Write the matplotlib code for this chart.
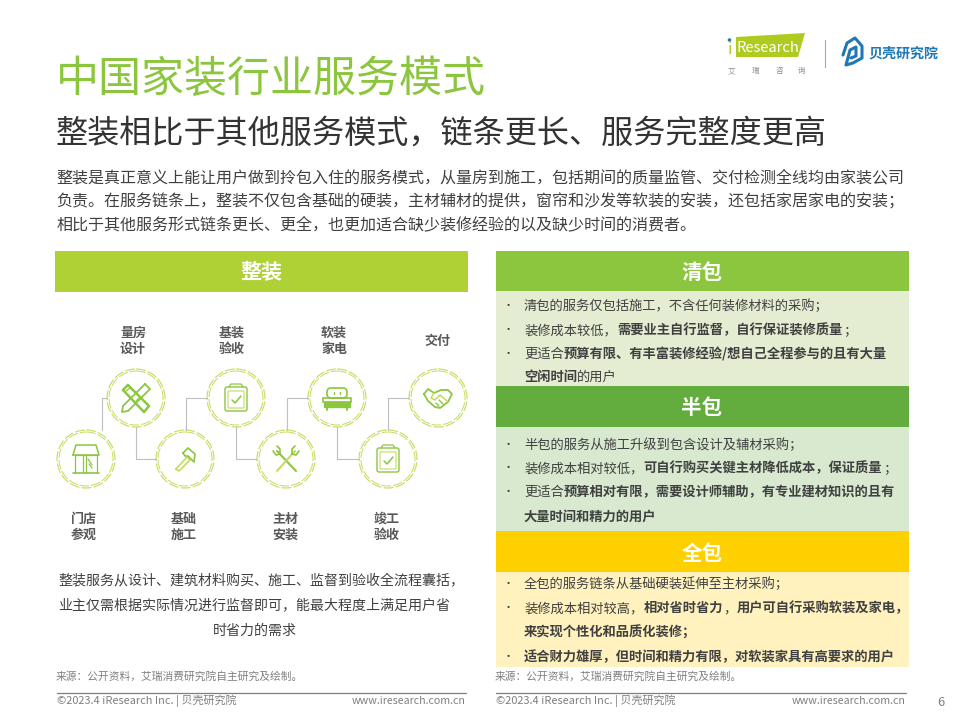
import matplotlib
matplotlib.use('Agg')
import matplotlib.pyplot as plt
from matplotlib.patches import Circle, Rectangle, Polygon, FancyBboxPatch

plt.rcParams['font.family'] = ['Noto Sans CJK SC', 'DejaVu Sans']

# teksty
tytul = '中国家装行业服务模式'
podtytul = '整装相比于其他服务模式，链条更长、服务完整度更高'
wstep = ['整装是真正意义上能让用户做到拎包入住的服务模式，从量房到施工，包括期间的质量监管、交付检测全线均由家装公司',
         '负责。在服务链条上，整装不仅包含基础的硬装，主材辅材的提供，窗帘和沙发等软装的安装，还包括家居家电的安装；',
         '相比于其他服务形式链条更长、更全，也更加适合缺少装修经验的以及缺少时间的消费者。']
opis_lewy = ['整装服务从设计、建筑材料购买、施工、监督到验收全流程囊括，',
             '业主仅需根据实际情况进行监督即可，能最大程度上满足用户省',
             '时省力的需求']
zrodlo = '来源：公开资料，艾瑞消费研究院自主研究及绘制。'
stopka = '©2023.4 iResearch Inc. | 贝壳研究院'
www = 'www.iresearch.com.cn'

# etapy: nazwa, x, y kola, ikona
etapy = [('门店\n参观', 'sklep'), ('量房\n设计', 'linijka'), ('基础\n施工', 'mlotek'), ('基装\n验收', 'lista'),
         ('主材\n安装', 'klucze'), ('软装\n家电', 'sofa'), ('竣工\n验收', 'lista'), ('交付', 'uscisk')]
kola_x = [86, 136, 185, 236, 286, 337, 388, 438]
kola_y = [459, 398, 459, 398, 459, 398, 459, 398]
etykiety_x = [84, 133, 184, 232, 285, 334, 387, 437]
etykiety_y = [527, 341, 527, 341, 527, 341, 527, 341]

# panele po prawej: tytul, kolory, wiersze (tekst, pogrubienie)
panele = [
    ('清包', '#8CC63F', '#E4EDD2', 251, 291, 386, [
        (True, [('清包的服务仅包括施工，不含任何装修材料的采购；', False)]),
        (True, [('装修成本较低，', False), ('需要业主自行监督，自行保证装修质量', True), ('；', False)]),
        (True, [('更适合', False), ('预算有限、有丰富装修经验/想自己全程参与的且有大量', True)]),
        (False, [('空闲时间', True), ('的用户', False)])]),
    ('半包', '#62AD3E', '#D8E9D0', 386, 427, 531, [
        (True, [('半包的服务从施工升级到包含设计及辅材采购；', False)]),
        (True, [('装修成本相对较低，', False), ('可自行购买关键主材降低成本，保证质量', True), ('；', False)]),
        (True, [('更适合', False), ('预算相对有限，需要设计师辅助，有专业建材知识的且有', True)]),
        (False, [('大量时间和精力的用户', True)])]),
    ('全包', '#FFD000', '#FFF2BE', 531, 572, 667, [
        (True, [('全包的服务链条从基础硬装延伸至主材采购；', False)]),
        (True, [('装修成本相对较高，', False), ('相对省时省力', True), ('，', False), ('用户可自行采购软装及家电，', True)]),
        (False, [('来实现个性化和品质化装修；', True)]),
        (True, [('适合财力雄厚，但时间和精力有限，对软装家具有高要求的用户', True)])]),
]
wiersze_y = [[306, 330, 354, 377], [445, 468, 492, 517], [584, 608, 633, 657]]

ZIELONY = '#8CC63F'
JASNY = '#C3DC5C'
SZARY = '#404040'

fig = plt.figure(figsize=(9.6, 7.2), dpi=100)
ax = fig.add_axes([0, 0, 1, 1])
ax.set_xlim(0, 960)
ax.set_ylim(720, 0)
ax.axis('off')


def pisz(x, y, s, px, kolor=SZARY, ha='left', bold=False, **kw):
    # rozmiar podany w pikselach
    return ax.text(x, y, s, fontsize=px * 0.72, color=kolor, ha=ha, va='center',
                   fontweight='bold' if bold else 'normal', **kw)


def szerokosc(s, px):
    return sum(px if ord(c) > 255 else 0.4 * px for c in s)


def wiersz(x, y, kawalki, px):
    for s, b in kawalki:
        pisz(x, y, s, px, bold=b)
        x += szerokosc(s, px)


def kreska(xs, ys, kolor=ZIELONY, lw=0.9):
    ax.plot(xs, ys, color=kolor, lw=lw, solid_capstyle='round', solid_joinstyle='round')


# ikony rysowane wokol srodka (cx, cy)
def ikona(nazwa, cx, cy):
    def k(pts, kolor=ZIELONY, lw=0.9):
        kreska([cx + p[0] for p in pts], [cy + p[1] for p in pts], kolor, lw)

    if nazwa == 'sklep':
        k([(-13, 14), (13, 14)], lw=1.2)
        k([(-11, 14), (-11, -4), (11, -4), (11, 14)])
        k([(-13, -4), (-10, -14), (10, -14), (13, -4), (-13, -4)], lw=1.1)
        k([(-3, 14), (-3, -4)])
        k([(0, 14), (0, -4)])
        k([(2, 0), (6, 6)])
        k([(3, 5), (6, 9)])
    elif nazwa == 'linijka':
        for a, b in [((-13, -8), (8, 14)), ((-8, -13), (13, 8))]:
            k([a, b], lw=1.8)
        k([(-13, -8), (-8, -13)], lw=1.8)
        k([(8, 14), (13, 8)], lw=1.8)
        k([(9, -14), (14, -9), (-8, 13), (-14, 14), (-13, 8), (9, -14)], lw=1.3)
        k([(-10, -7), (-6, -10)], lw=0.9)
        k([(0, 3), (4, -1)], lw=0.9)
    elif nazwa == 'mlotek':
        k([(-9, 10), (2, -2), (5, 1), (-6, 12), (-9, 10)], JASNY, 1.2)
        k([(-2, -6), (3, -11), (10, -5), (9, 3), (3, -3), (0, -3), (-2, -6)], ZIELONY, 1.2)
    elif nazwa == 'lista':
        ax.add_patch(FancyBboxPatch((cx - 11, cy - 11), 22, 24, boxstyle='round,pad=0,rounding_size=2',
                                    fc='none', ec=ZIELONY, lw=1.0))
        ax.add_patch(FancyBboxPatch((cx - 8, cy - 7), 16, 17, boxstyle='round,pad=0,rounding_size=1',
                                    fc='none', ec=JASNY, lw=0.8))
        k([(-7, -11), (-5, -14), (5, -14), (7, -11)])
        k([(-4, 2), (-1, 5), (5, -2)], ZIELONY, 1.1)
    elif nazwa == 'klucze':
        k([(-9, -8), (10, 12)], ZIELONY, 1.5)
        k([(9, -8), (-9, 12)], JASNY, 1.5)
        k([(-13, -8), (-10, -4), (-6, -5), (-6, -10), (-9, -13)], ZIELONY, 1.2)
        k([(13, -8), (10, -4), (6, -5), (6, -10), (9, -13)], ZIELONY, 1.2)
    elif nazwa == 'sofa':
        ax.add_patch(FancyBboxPatch((cx - 10, cy - 10), 20, 10, boxstyle='round,pad=0,rounding_size=4',
                                    fc='none', ec=ZIELONY, lw=1.2))
        ax.add_patch(Rectangle((cx - 14, cy), 28, 4, fc='none', ec=ZIELONY, lw=1.2))
        ax.add_patch(Rectangle((cx - 13, cy + 4), 26, 5, fc=ZIELONY, ec=ZIELONY))
        k([(-10, 9), (-10, 12)], lw=1.4)
        k([(10, 9), (10, 12)], lw=1.4)
        k([(-3, -6), (-3, -4)], lw=1.0)
        k([(3, -6), (3, -4)], lw=1.0)
    elif nazwa == 'uscisk':
        k([(-14, -4), (-10, -9), (-4, -5), (3, -8), (10, -8), (14, -4), (10, 4), (2, 10), (-3, 9), (-10, 3), (-14, -4)],
          ZIELONY, 1.3)
        k([(-4, -5), (-7, 0), (-3, 2), (2, -3), (9, 3)], JASNY, 1.1)
        k([(-2, 5), (1, 8)], ZIELONY, 1.0)
        k([(1, 2), (5, 6)], ZIELONY, 1.0)


# naglowek
pisz(55.5, 80, tytul, 43, kolor=ZIELONY)
pisz(56, 134, podtytul, 32.1, kolor='#333333')
for y, s in zip([178, 202, 225], wstep):
    pisz(56.5, y, s, 16.05)

# logo iResearch
ax.add_patch(Polygon([(736, 37), (805, 33), (798, 57), (736, 57)], fc='#AFCB1F', ec='none'))
ax.add_patch(Circle((729.5, 40), 1.8, fc='#2E75B6', ec='none'))
pisz(728, 49, 'i', 16, kolor='#AFCB1F')
pisz(737, 48, 'Research', 14.8, kolor='white')
for x, s in zip([731, 755, 779, 801], '艾瑞咨询'):
    pisz(x, 71, s, 7.5, kolor='#8C8C8C', ha='center')
kreska([824.5, 824.5], [40, 67], '#A6A6A6', 0.8)
kreska([843, 847, 855, 862, 862, 853, 846, 850, 856, 856, 851], [55, 43, 38, 46, 58, 63, 65, 50, 47, 56, 58],
       '#1F78B4', 2.2)
pisz(868, 54, '贝壳研究院', 14, kolor='#1F78B4', bold=True)

# panel lewy
ax.add_patch(Rectangle((55, 251), 413, 41, fc='#AFD136', ec='none'))
pisz(261, 273, '整装', 21, kolor='white', ha='center', bold=True)

# laczniki miedzy kolami
LACZNIK = '#BFBFBF'
lacz_x = [102, 136, 186, 236, 287, 337, 388]
for i, lx in enumerate(lacz_x):
    kx, ky = kola_x[i + 1], kola_y[i + 1]
    if i % 2 == 0:
        kreska([lx, lx, kx - 29], [kola_y[i] - 29, ky, ky], LACZNIK, 0.8)
    else:
        kreska([lx, lx, kx - 29], [kola_y[i] + 29, ky, ky], LACZNIK, 0.8)

for (nazwa, ik), kx, ky, ex, ey in zip(etapy, kola_x, kola_y, etykiety_x, etykiety_y):
    ax.add_patch(Circle((kx, ky), 29, fc='white', ec=JASNY, lw=0.8, ls=(0, (9, 2))))
    ax.add_patch(Circle((kx, ky), 27, fc='white', ec=JASNY, lw=0.7, ls=(0, (10, 2))))
    ikona(ik, kx, ky)
    linie = nazwa.split('\n')
    if len(linie) == 2:
        pisz(ex, ey - 8, linie[0], 13, kolor='#595959', ha='center', bold=True)
        pisz(ex, ey + 8, linie[1], 13, kolor='#595959', ha='center', bold=True)
    else:
        pisz(ex, ey, linie[0], 13, kolor='#595959', ha='center', bold=True)

for x, y, s in zip([261, 254, 255], [581, 606, 631], opis_lewy):
    pisz(x, y, s, 14, ha='center')

# panele po prawej
for (nazwa, kol_n, kol_t, y0, y1, y2, wiersze), ys in zip(panele, wiersze_y):
    ax.add_patch(Rectangle((496, y1), 413, y2 - y1, fc=kol_t, ec='none'))
    ax.add_patch(Rectangle((496, y0), 413, y1 - y0, fc=kol_n, ec='none'))
    pisz(702, (y0 + y1) / 2 + 1.5, nazwa, 20.5, kolor='white', ha='center', bold=True)
    for (punkt, kawalki), y in zip(wiersze, ys):
        if punkt:
            pisz(508, y, '•', 11, ha='center')
        wiersz(524, y, kawalki, 13.3)

# stopki
for x0, x1 in [(57, 466), (496, 906)]:
    pisz(x0 - 1, 676, zrodlo, 10.7, kolor='#7F7F7F')
    kreska([x0, x1], [692.5, 692.5], '#7F7F7F', 0.9)
    pisz(x0, 701, stopka, 11, kolor='#7F7F7F')
    pisz(x1, 701, www, 10.7, kolor='#7F7F7F', ha='right')
pisz(941, 703, '6', 13, kolor='#7F7F7F', ha='center')

fig.savefig('out.png', dpi=100)
